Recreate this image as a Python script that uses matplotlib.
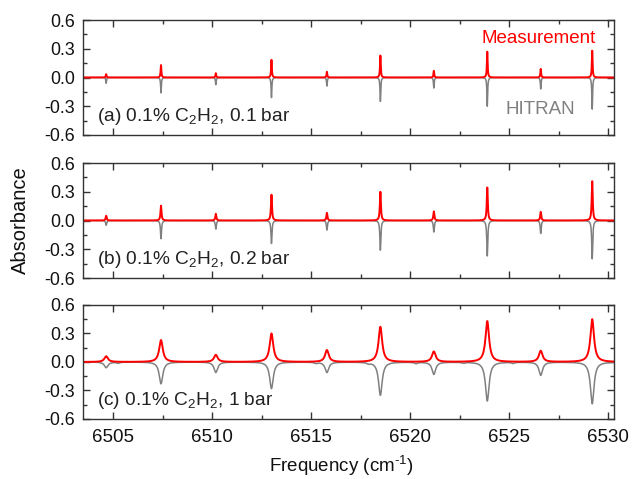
import numpy as np
import matplotlib
matplotlib.use("Agg")
import matplotlib.pyplot as plt
from matplotlib.ticker import MultipleLocator

plt.rcParams['font.family'] = ['Liberation Sans', 'DejaVu Sans']
plt.rcParams['mathtext.fontset'] = 'custom'
plt.rcParams['mathtext.rm'] = 'Liberation Sans'
plt.rcParams['mathtext.it'] = 'Liberation Sans:italic'

# ---- data ----
line_pos = [6504.65, 6507.42, 6510.19, 6513.0, 6515.8, 6518.5, 6521.2, 6523.9, 6526.6, 6529.2]

meas_a = [0.035, 0.13, 0.045, 0.185, 0.06, 0.23, 0.07, 0.27, 0.09, 0.28]
hitran_a = [0.06, 0.16, 0.075, 0.21, 0.09, 0.25, 0.11, 0.30, 0.12, 0.33]

meas_b = [0.05, 0.155, 0.07, 0.27, 0.08, 0.30, 0.095, 0.345, 0.09, 0.41]
hitran_b = [0.05, 0.19, 0.09, 0.24, 0.10, 0.31, 0.12, 0.37, 0.135, 0.40]

meas_c = [0.06, 0.23, 0.075, 0.30, 0.125, 0.37, 0.11, 0.43, 0.117, 0.45]
hitran_c = [0.06, 0.23, 0.11, 0.28, 0.11, 0.35, 0.13, 0.41, 0.14, 0.44]

weak_pos = [6505.25, 6515.25, 6517.9, 6520.3, 6522.7, 6525.2]
weak_c = [0.012, 0.012, 0.012, 0.015, 0.01, 0.012]

hwhm = {'a': 0.022, 'b': 0.03, 'c': 0.11}   # line half widths (cm-1)

labels = ['(a) 0.1% C$_\\mathregular{2}$H$_\\mathregular{2}$, 0.1 bar',
          '(b) 0.1% C$_\\mathregular{2}$H$_\\mathregular{2}$, 0.2 bar',
          '(c) 0.1% C$_\\mathregular{2}$H$_\\mathregular{2}$, 1 bar']

xlim = (6503.48, 6530.3)


def spectrum(x, pos, amp, w):
    y = np.zeros_like(x)
    for p, a in zip(pos, amp):
        y += a * w**2 / ((x - p)**2 + w**2)
    return y


x = np.linspace(xlim[0], xlim[1], 8000)

fig = plt.figure(figsize=(6.32, 4.79), dpi=100)
left, width = 0.1313, 0.8402
rects = [(0.7182, 0.2400), (0.4196, 0.2401), (0.1253, 0.2380)]
meas = {'a': meas_a, 'b': meas_b, 'c': meas_c}
hit = {'a': hitran_a, 'b': hitran_b, 'c': hitran_c}

axes = []
for i, key in enumerate(['a', 'b', 'c']):
    b, h = rects[i]
    ax = fig.add_axes([left, b, width, h])
    axes.append(ax)
    w = hwhm[key]
    yh = -spectrum(x, line_pos, hit[key], w)
    if key == 'c':
        yh -= spectrum(x, weak_pos, weak_c, w * 0.8)
    ym = spectrum(x, line_pos, meas[key], w)
    ax.plot(x, yh, color='#808080', lw=1.1)
    ax.plot(x, ym, color='#ff0000', lw=1.4)
    ax.set_xlim(*xlim)
    ax.set_ylim(-0.6, 0.6)
    ax.yaxis.set_minor_locator(MultipleLocator(0.15))
    ax.xaxis.set_major_locator(MultipleLocator(5))
    ax.xaxis.set_minor_locator(MultipleLocator(2.5))
    ax.set_yticks([-0.6, -0.3, 0.0, 0.3, 0.6])
    ax.set_yticklabels(['-0.6', '-0.3', '0.0', '0.3', '0.6'])
    ax.tick_params(which='both', direction='in', top=True, right=True,
                   width=1, color='#333333', labelcolor='#111111')
    ax.tick_params(axis='y', labelsize=12.8, pad=6)
    ax.tick_params(axis='x', labelsize=13.5, pad=7)
    ax.tick_params(which='major', length=5)
    ax.tick_params(which='minor', length=3)
    for s in ax.spines.values():
        s.set_color('#333333')
        s.set_linewidth(1.0)
    if key != 'c':
        ax.tick_params(labelbottom=False)
    ax.text(0.026, 0.16, labels[i], transform=ax.transAxes, ha='left', va='center',
            fontsize=13.8, color='#222222')

axes[0].text(0.966, 0.835, 'Measurement', transform=axes[0].transAxes, ha='right',
             va='center', fontsize=13.5, color='#ff0000')
axes[0].text(0.927, 0.226, 'HITRAN', transform=axes[0].transAxes, ha='right',
             va='center', fontsize=13.5, color='#808080')

fig.text(0.033, 0.54, 'Absorbance', rotation=90, ha='center', va='center', fontsize=14.5,
         color='#111111')
fig.text(0.54, 0.003, 'Frequency (cm$^\\mathregular{\u2010 1}$)', ha='center', va='bottom',
         fontsize=13.5, color='#111111')

fig.savefig('out.png', dpi=100)
